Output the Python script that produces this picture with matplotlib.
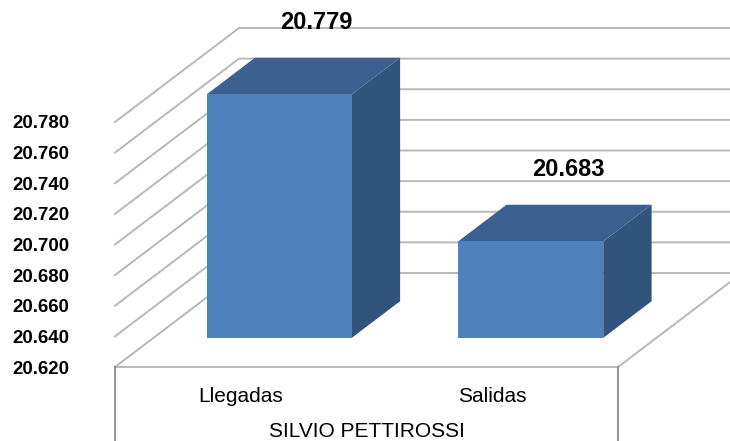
import matplotlib.pyplot as plt
from matplotlib.patches import Polygon
from matplotlib.transforms import IdentityTransform

# passenger counts at the airport
categories = ['Llegadas', 'Salidas']
values = [20779, 20683]
group_label = 'SILVIO PETTIROSSI'
y_ticks = [20620, 20640, 20660, 20680, 20700, 20720, 20740, 20760, 20780]

plt.rcParams['font.family'] = ['Liberation Sans', 'DejaVu Sans']

fig = plt.figure(figsize=(7.3, 4.41), dpi=100)
W, H = 730, 441
ax = fig.add_axes([115 / W, 74 / H, 503 / W, 245 / H])
ax.set_xlim(0, 2)
ax.set_ylim(y_ticks[0], y_ticks[-1])
ax.patch.set_visible(False)
for s in ax.spines.values():
    s.set_visible(False)
ax.set_xticks([])
ax.set_yticks(y_ticks)
ax.set_yticklabels([f'{t:,}'.replace(',', '.') for t in y_ticks],
                   fontsize=13.4, fontweight='bold')
ax.tick_params(axis='y', length=0, pad=33)

# oblique depth offset of the 3d box, in pixels
DX, DY = 124, 94
base = y_ticks[0]
ident = IdentityTransform()


def proj(x, v, d):
    px, py = ax.transData.transform((x, v))
    return (px + d * DX, py + d * DY)


def line(pts, **kw):
    xs = [p[0] for p in pts]
    ys = [p[1] for p in pts]
    ax.plot(xs, ys, transform=ident, clip_on=False, **kw)


# side and back walls with gridlines
for t in y_ticks:
    line([proj(0, t, 0), proj(0, t, 1), proj(2.1, t, 1)],
         color='#b8b8b8', lw=1.4, zorder=1)

# floor edges
line([proj(0, base, 0), proj(2, base, 0), proj(2, base, 1)],
     color='#b8b8b8', lw=1.4, zorder=1)

# category box under the floor
for xe in (0, 2):
    x0, y0 = proj(xe, base, 0)
    line([(x0, y0), (x0, -5)], color='#8a8a8a', lw=1.3, zorder=1)

# 3d bars
bw = 0.577
d0, d1 = 0.31, 0.70
for i, v in enumerate(values):
    xc = i + 0.5
    xa, xb = xc - bw / 2, xc + bw / 2
    front = [proj(xa, base, d0), proj(xb, base, d0), proj(xb, v, d0), proj(xa, v, d0)]
    top = [proj(xa, v, d0), proj(xb, v, d0), proj(xb, v, d1), proj(xa, v, d1)]
    side = [proj(xb, base, d0), proj(xb, base, d1), proj(xb, v, d1), proj(xb, v, d0)]
    for pts, col in ((side, '#32537c'), (top, '#3c6190'), (front, '#4f81bd')):
        ax.add_patch(Polygon(pts, closed=True, facecolor=col, edgecolor='none',
                             transform=ident, clip_on=False, zorder=3))
    lx, ly = proj(xc, v, d1)
    ax.annotate(f'{v:,}'.replace(',', '.'), xy=(lx - 11, ly + 35),
                xycoords='figure pixels', ha='center', va='center',
                fontsize=17, fontweight='bold', zorder=5)
    ax.text(xc, (39 - 74) / 245, categories[i], transform=ax.get_xaxis_transform(),
            ha='center', va='baseline', fontsize=15)

ax.text(1, (4 - 74) / 245, group_label, transform=ax.get_xaxis_transform(),
        ha='center', va='baseline', fontsize=15)

fig.savefig('out.png', dpi=100)
